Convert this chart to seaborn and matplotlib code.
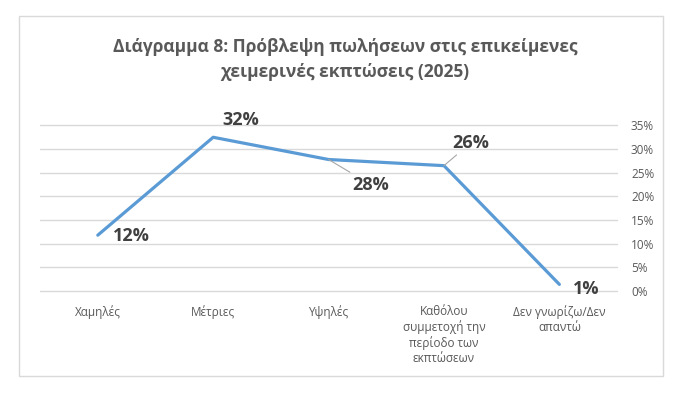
import matplotlib
matplotlib.use("Agg")
import matplotlib.pyplot as plt
from matplotlib.patches import Rectangle
from matplotlib.ticker import PercentFormatter
import pandas as pd
import seaborn as sns

# Data
categories = [
    "Χαμηλές",
    "Μέτριες",
    "Υψηλές",
    "Καθόλου\nσυμμετοχή την\nπερίοδο των\nεκπτώσεων",
    "Δεν γνωρίζω/Δεν\nαπαντώ",
]
shares = [0.118, 0.325, 0.278, 0.265, 0.014]
labels = ["12%", "32%", "28%", "26%", "1%"]
title = "Διάγραμμα 8: Πρόβλεψη πωλήσεων στις επικείμενες\nχειμερινές εκπτώσεις (2025)"

sns.set_style("white")
plt.rcParams["font.family"] = ["Open Sans", "DejaVu Sans"]

df = pd.DataFrame({"cat": categories, "share": shares})

fig = plt.figure(figsize=(6.91, 3.97), dpi=100)
ax = fig.add_axes([0.058, 0.267, 0.835, 0.417])

sns.lineplot(data=df, x="cat", y="share", sort=False, color="#5B9BD5",
             linewidth=2.3, ax=ax)

ax.set_ylim(0, 0.35)
ax.set_xlim(-0.5, len(categories) - 0.5)
ax.set_yticks([i * 0.05 for i in range(8)])
ax.yaxis.set_major_formatter(PercentFormatter(1.0, decimals=0))
ax.yaxis.tick_right()
ax.grid(axis="y", color="#D9D9D9", linewidth=1)
for gl in ax.get_ygridlines():
    gl.set_clip_on(False)
ax.set_axisbelow(True)
for s in ax.spines.values():
    s.set_visible(False)
ax.tick_params(axis="y", length=0, labelsize=8.5, labelcolor="#595959", pad=10)
ax.tick_params(axis="x", length=0, labelsize=8.5, labelcolor="#595959", pad=10)
ax.set_xlabel("")
ax.set_ylabel("")

# data labels (offsets in pixels)
offsets = [(15, -1, "left"), (28, 17, "center"), (42, -25, "center"),
           (27, 23, "center"), (14, -5, "left")]
for i, (v, lab) in enumerate(zip(shares, labels)):
    dx, dy, ha = offsets[i]
    arrow = None
    if i in (2, 3):
        arrow = dict(arrowstyle="-", color="#A6A6A6", lw=0.8, shrinkA=0, shrinkB=0)
    ax.annotate(lab, xy=(i, v), xytext=(dx, dy), textcoords="offset pixels",
                ha=ha, va="center", fontsize=13, fontweight="bold",
                color="#404040", arrowprops=arrow)

fig.text(0.4993, 0.85, title, ha="center", va="center", fontsize=12.5,
         fontweight="bold", color="#595959", linespacing=1.45)

fig.add_artist(Rectangle((0.0275, 0.053), 0.932, 0.907, transform=fig.transFigure,
                         fill=False, edgecolor="#D9D9D9", linewidth=1))

fig.savefig("out.png", dpi=100, facecolor="white")
